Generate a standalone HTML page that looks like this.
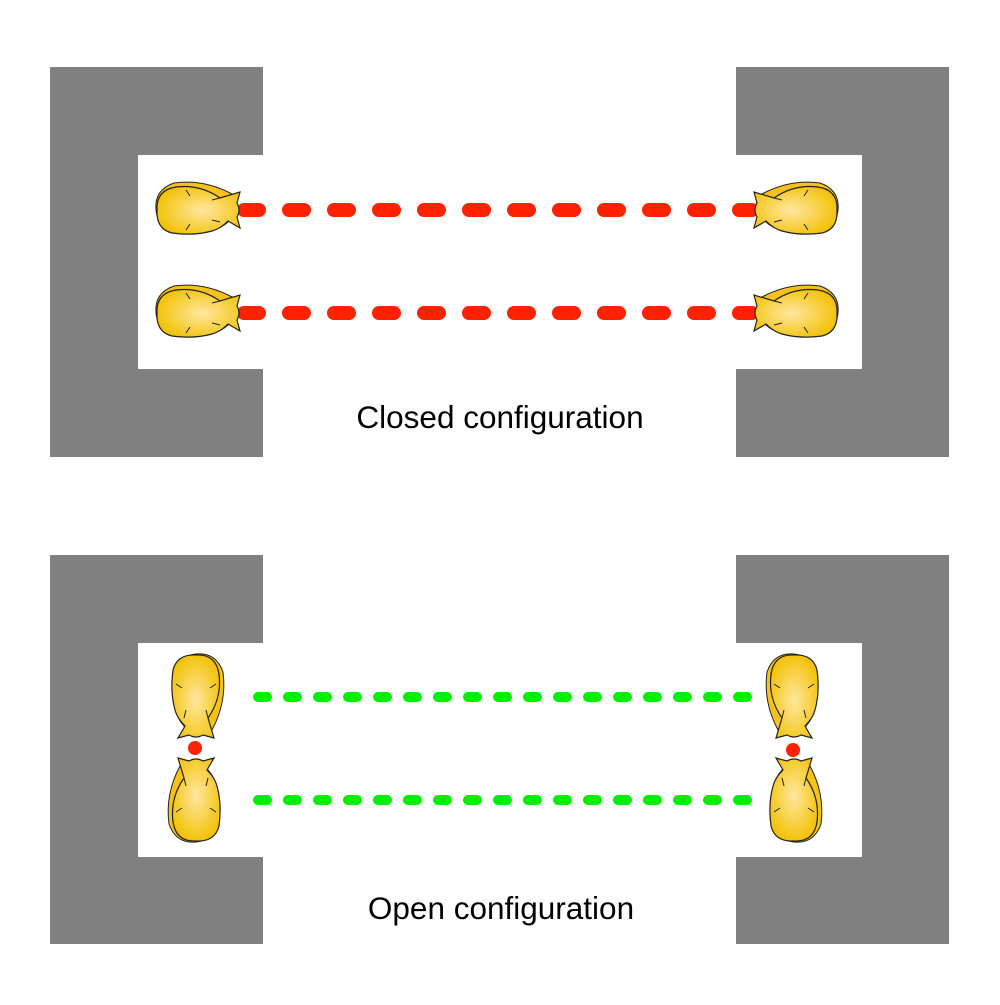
<!DOCTYPE html>
<html><head><style>body{margin:0;background:#fff}</style></head><body>
<svg width="1000" height="1000" viewBox="0 0 1000 1000" xmlns="http://www.w3.org/2000/svg">
<defs>
<radialGradient id="g" cx="0.55" cy="0.5" r="0.6"><stop offset="0" stop-color="#ffe7a0"/><stop offset="1" stop-color="#f2c000"/></radialGradient>
<g id="m">
<path d="M-12,-14 Q-40,-29 -70,-25 Q-90,-18 -88,2 Q-86,23 -62,25 Q-30,27 -16,14 Z" fill="#f5c21a" stroke="#222" stroke-width="1" transform="translate(2,-2)"/>
<path d="M-2,-18 L-5,-7 Q-1,0 -5,7 L-2,18 L-14,11 Q-22,19 -30,21 Q-48,26 -70,23 Q-86,19 -85,0 Q-86,-20 -66,-23 Q-42,-26 -22,-12 Z" fill="url(#g)" stroke="#222" stroke-width="1.2"/>
<path d="M-30,-10 L-22,-12 M-30,10 L-22,12 M-56,-20 L-52,-14 M-56,20 L-52,14" stroke="#222" stroke-width="1" fill="none"/>
</g>
</defs>
<g fill="#808080">
<path d="M50,67H263V155H138V369H263V457H50Z"/>
<path d="M736,67H949V457H736V369H862V155H736Z"/>
<path d="M50,555H263V643H138V857H263V944H50Z"/>
<path d="M736,555H949V944H736V857H862V643H736Z"/>
</g>
<g stroke="#ff2200" stroke-width="14" stroke-linecap="round" stroke-dasharray="15 30" fill="none">
<line x1="244" y1="210" x2="752" y2="210"/>
<line x1="244" y1="313" x2="752" y2="313"/>
</g>
<g stroke="#00ee00" stroke-width="10" stroke-linecap="round" stroke-dasharray="9 21" fill="none">
<line x1="258" y1="697" x2="750" y2="697"/>
<line x1="258" y1="800" x2="750" y2="800"/>
</g>
<use href="#m" transform="translate(242,210)"/>
<use href="#m" transform="translate(242,313)"/>
<use href="#m" transform="translate(752,210) scale(-1,1)"/>
<use href="#m" transform="translate(752,313) scale(-1,1)"/>
<use href="#m" transform="translate(196,740) rotate(90)"/>
<use href="#m" transform="translate(196,756) rotate(-90)"/>
<use href="#m" transform="translate(794,740) rotate(90) scale(1,-1)"/>
<use href="#m" transform="translate(794,756) rotate(-90) scale(1,-1)"/>
<circle cx="195" cy="748" r="7" fill="#ff2200"/>
<circle cx="793" cy="750" r="7" fill="#ff2200"/>
<g font-family="Liberation Sans, sans-serif" font-size="31.5" text-anchor="middle" fill="#000">
<text x="500" y="428">Closed configuration</text>
<text x="501" y="919">Open configuration</text>
</g>
</svg>
</body></html>
